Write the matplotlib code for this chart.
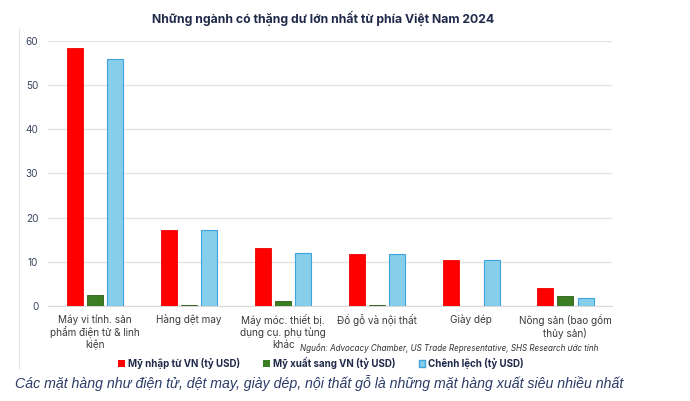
import numpy as np
import matplotlib
matplotlib.use("Agg")
import matplotlib.pyplot as plt
from matplotlib.patches import Patch

# Data ########################################################################
categories = ["Máy vi tính. sản\nphẩm điện tử & linh\nkiện", "Hàng dệt may",
              "Máy móc. thiết bị.\ndụng cụ. phụ tùng\nkhác", "Đồ gỗ và nội thất",
              "Giày dép", "Nông sản (bao gồm\nthủy sản)"]
us_imports = [58.3, 17.1, 13.1, 11.8, 10.5, 4.1]
us_exports = [2.4, 0.3, 1.1, 0.2, 0.05, 2.3]
balance = [56.0, 17.1, 12.0, 11.7, 10.4, 1.9]
series_names = ["Mỹ nhập từ VN (tỷ USD)", "Mỹ xuất sang VN (tỷ USD)", "Chênh lệch (tỷ USD)"]
title = "Những ngành có thặng dư lớn nhất từ phía Việt Nam 2024"
source = "Nguồn: Advocacy Chamber, US Trade Representative, SHS Research ước tính"
caption = ("Các mặt hàng như điện tử, dệt may, giày dép, nội thất gỗ là những "
           "mặt hàng xuất siêu nhiều nhất")
###############################################################################

plt.rcParams['font.family'] = ['Inter', 'DejaVu Sans']
navy = '#1f2a4a'

fig = plt.figure(figsize=(6.9, 4.01), dpi=100)
ax = fig.add_axes([0.0696, 0.237, 0.818, 0.661])

x = np.arange(len(categories))
w = 0.17
step = 0.215
ax.bar(x - step, us_imports, w, color='#ff0000', edgecolor='#ee0000', linewidth=0.6,
       label=series_names[0], zorder=3)
ax.bar(x, us_exports, w, color='#3a7d22', edgecolor='#2a5e18', linewidth=0.6,
       label=series_names[1], zorder=3)
ax.bar(x + step, balance, w, color='#87ceeb', edgecolor='#3fa3dc', linewidth=0.8,
       label=series_names[2], zorder=3)

ax.set_xlim(-0.5, len(categories) - 0.5)
ax.set_ylim(0, 60)
ax.set_yticks(range(0, 61, 10))
ax.yaxis.grid(True, color='#e3e3e3', linewidth=1)
ax.set_axisbelow(True)
for s in ['top', 'right', 'left']:
    ax.spines[s].set_visible(False)
ax.spines['bottom'].set_color('#d9d9d9')
ax.tick_params(axis='both', length=0, labelsize=7.2, colors='#3b3b3b')
ax.tick_params(axis='y', pad=7, colors='#3a4560')
ax.set_xticks(x)
ax.set_xticklabels(categories, linespacing=1.15)
ax.tick_params(axis='x', pad=6)

fig.text(0.468, 0.955, title, ha='center', va='center', fontsize=8.8,
         fontweight='bold', color=navy)
fig.text(0.867, 0.132, source, ha='right', va='center', fontsize=5.8,
         style='italic', color='#333333')

handles = [Patch(facecolor='#ff0000'), Patch(facecolor='#3a7d22'),
           Patch(facecolor='#87ceeb', edgecolor='#3fa3dc')]
leg = fig.legend(handles, series_names, loc='center', bbox_to_anchor=(0.465, 0.095),
                 ncol=3, frameon=False, handlelength=0.7, handleheight=0.7,
                 handletextpad=0.3, columnspacing=2.4,
                 prop={'size': 7.0, 'weight': 'bold'})
for t in leg.get_texts():
    t.set_color(navy)

fig.text(0.022, 0.045, caption, ha='left', va='center', fontsize=10.2,
         style='italic', color='#2b3a67', family=['Liberation Sans', 'DejaVu Sans'])

# faint frame line on the left
fig.add_artist(plt.Line2D([0.028, 0.028], [0.08, 0.93], color='#e6e6e6', linewidth=0.8))

fig.savefig('out.png', dpi=100)
